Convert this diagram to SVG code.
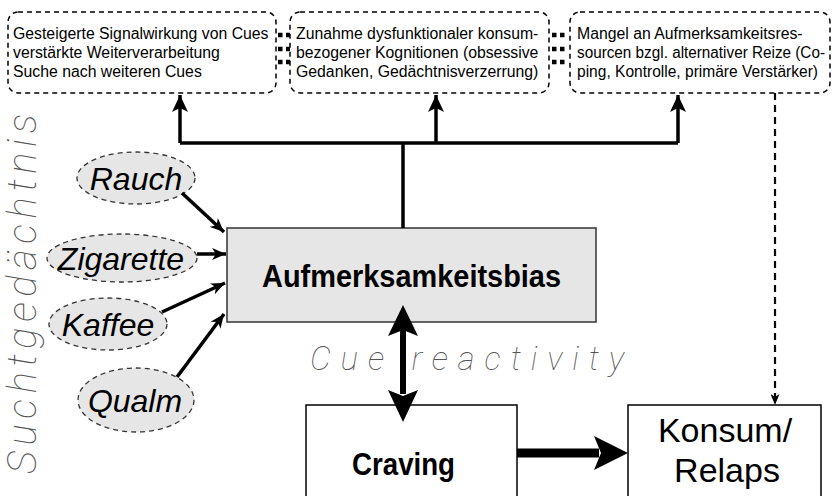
<svg xmlns="http://www.w3.org/2000/svg" width="832" height="496" viewBox="0 0 832 496">
<style>
.top{fill:none;stroke:#000;stroke-width:1.5;stroke-dasharray:5 4}
.tt{font-family:"Liberation Sans",Arial,sans-serif;font-size:15.8px;fill:#000}
.ell{fill:#e6e6e6;stroke:#333;stroke-width:1.3;stroke-dasharray:5 4}
.et{font-family:"Liberation Sans",Arial,sans-serif;font-size:32px;font-style:italic;fill:#000;text-anchor:middle}
.bold{font-family:"Liberation Sans Narrow","Liberation Sans",Arial,sans-serif;font-weight:bold;font-size:32px;fill:#000;text-anchor:middle}
.reg{font-family:"Liberation Sans",Arial,sans-serif;font-size:34px;fill:#000;text-anchor:middle}
.thin{font-family:Roboto,"Liberation Sans",sans-serif;font-weight:100;font-style:italic;fill:#555}
.ln{fill:none;stroke:#000;stroke-width:3.5}
.dots{fill:none;stroke:#000;stroke-width:4.5;stroke-dasharray:4.5 3.5}
</style>
<defs>
<marker id="ah" viewBox="0 0 14 12" refX="14" refY="6" markerWidth="14" markerHeight="12" markerUnits="userSpaceOnUse" orient="auto">
<path d="M0,0 L14,6 L0,12 L4,6 Z" fill="#000"/>
</marker>
<marker id="ahT" viewBox="0 0 17 16" refX="17" refY="8" markerWidth="17" markerHeight="16" markerUnits="userSpaceOnUse" orient="auto">
<path d="M0,0 L17,8 L0,16 L4,8 Z" fill="#000"/>
</marker>
<marker id="ahS" viewBox="0 0 11 9" refX="11" refY="4.5" markerWidth="11" markerHeight="9" markerUnits="userSpaceOnUse" orient="auto">
<path d="M0,0 L11,4.5 L0,9 L3,4.5 Z" fill="#000"/>
</marker>
</defs>

<g id="label-suchtgedaechtnis">
<text class="thin" font-size="40" transform="translate(36,474) rotate(-90)" textLength="360" lengthAdjust="spacing">Suchtgedächtnis</text>
</g>

<g id="box-signal">
<rect class="top" x="8" y="12" width="268" height="81" rx="10"/>
<text class="tt" x="13" y="39">Gesteigerte Signalwirkung von Cues</text>
<text class="tt" x="13" y="58">verstärkte Weiterverarbeitung</text>
<text class="tt" x="13" y="77">Suche nach weiteren Cues</text>
</g>
<g id="box-kognition">
<rect class="top" x="290" y="12" width="259" height="81" rx="10"/>
<text class="tt" x="296" y="39">Zunahme dysfunktionaler konsum-</text>
<text class="tt" x="296" y="58">bezogener Kognitionen (obsessive</text>
<text class="tt" x="296" y="77">Gedanken, Gedächtnisverzerrung)</text>
</g>
<g id="box-mangel">
<rect class="top" x="570" y="12" width="260" height="81" rx="10"/>
<text class="tt" x="577" y="39">Mangel an Aufmerksamkeitsres-</text>
<text class="tt" x="577" y="58" textLength="248" lengthAdjust="spacingAndGlyphs">sourcen bzgl. alternativer Reize (Co-</text>
<text class="tt" x="577" y="77" textLength="241" lengthAdjust="spacingAndGlyphs">ping, Kontrolle, primäre Verstärker)</text>
</g>

<g id="cue-rauch"><ellipse class="ell" cx="136" cy="178" rx="59" ry="26"/><text class="et" x="136" y="189.5">Rauch</text></g>
<g id="cue-zigarette"><ellipse class="ell" cx="122" cy="258" rx="75" ry="24"/><text class="et" x="121" y="269.5">Zigarette</text></g>
<g id="cue-kaffee"><ellipse class="ell" cx="108" cy="324" rx="59" ry="26"/><text class="et" x="108" y="335.5">Kaffee</text></g>
<g id="cue-qualm"><ellipse class="ell" cx="136" cy="400" rx="58" ry="32"/><text class="et" x="135" y="411.5">Qualm</text></g>

<g id="node-bias">
<rect x="227" y="228" width="369" height="94" fill="#e6e6e6" stroke="#333" stroke-width="1.5"/>
<text class="bold" x="411.5" y="287" textLength="299" lengthAdjust="spacingAndGlyphs">Aufmerksamkeitsbias</text>
</g>
<g id="node-craving">
<rect x="306" y="405" width="211" height="110" fill="#fff" stroke="#000" stroke-width="1.5"/>
<text class="bold" x="403.5" y="475" textLength="103" lengthAdjust="spacingAndGlyphs">Craving</text>
</g>
<g id="node-konsum">
<rect x="628" y="405" width="193" height="110" fill="#fff" stroke="#000" stroke-width="1.5"/>
<text class="reg" x="725" y="442">Konsum/</text>
<text class="reg" x="727" y="482">Relaps</text>
</g>

<g id="label-cue-reactivity">
<text class="thin" font-size="33" x="310" y="370" textLength="314" lengthAdjust="spacing">Cue reactivity</text>
</g>

<g id="connectors">
<line class="dots" x1="278" y1="35" x2="290" y2="35" stroke-dasharray="4 3"/>
<line class="dots" x1="278" y1="49" x2="290" y2="49" stroke-dasharray="4 3"/>
<line class="dots" x1="278" y1="62" x2="290" y2="62" stroke-dasharray="4 3"/>
<line class="dots" x1="552" y1="35" x2="568" y2="35" stroke-dasharray="4 2"/>
<line class="dots" x1="552" y1="49" x2="568" y2="49" stroke-dasharray="4 2"/>
<line class="dots" x1="552" y1="62" x2="568" y2="62" stroke-dasharray="4 2"/>

<polyline class="ln" points="403,228 403,143"/>
<polyline class="ln" points="180,143 678,143"/>
<line class="ln" x1="180" y1="143" x2="180" y2="95" marker-end="url(#ahT)"/>
<line class="ln" x1="436" y1="143" x2="436" y2="95" marker-end="url(#ahT)"/>
<line class="ln" x1="678" y1="143" x2="678" y2="95" marker-end="url(#ahT)"/>

<line x1="775" y1="93" x2="775" y2="405" stroke="#000" stroke-width="2.2" stroke-dasharray="7 5" marker-end="url(#ahS)"/>

<line class="ln" x1="182" y1="193" x2="224" y2="232" marker-end="url(#ah)"/>
<line class="ln" x1="197" y1="254" x2="226" y2="254" marker-end="url(#ah)"/>
<line class="ln" x1="162" y1="312" x2="225" y2="283" marker-end="url(#ah)"/>
<line class="ln" x1="177" y1="377" x2="224" y2="314" marker-end="url(#ah)"/>

<rect x="400" y="328" width="6" height="66" fill="#000"/>
<polygon points="403,305 418,336 403,330 388,336" fill="#000"/>
<polygon points="403,422 418,390 403,396 388,390" fill="#000"/>

<rect x="517" y="448.5" width="82" height="9" fill="#000"/>
<polygon points="628,453 594,436 601,453 594,470" fill="#000"/>
</g>
</svg>
